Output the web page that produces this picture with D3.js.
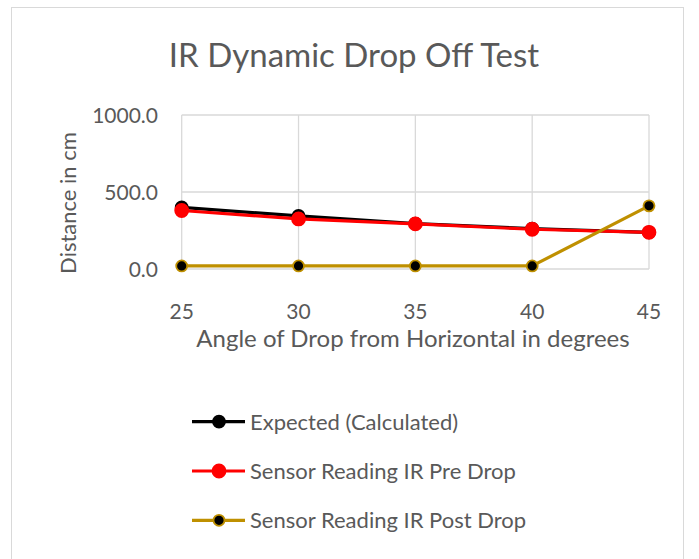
<!DOCTYPE html>
<html>
<head>
<meta charset="utf-8">
<script src="https://cdn.jsdelivr.net/npm/d3@7"></script>
<style>
  body { margin: 0; background: #fff; }
  svg text { font-family: Lato, "Open Sans", sans-serif; fill: #595959; }
</style>
</head>
<body>
<div class="chart-area"></div>
<script>
// data
const angles = [25, 30, 35, 40, 45];
const expected = [400, 345, 295, 262, 238];
const preDrop = [380, 325, 293, 258, 238];
const postDrop = [20, 20, 20, 20, 410];
const yTicks = [0, 500, 1000];
const seriesNames = ["Expected (Calculated)", "Sensor Reading IR Pre Drop", "Sensor Reading IR Post Drop"];

let width = 699;
let height = 559;

const svg = d3.select(".chart-area").append("svg")
  .attr("width", width)
  .attr("height", height);

// chart border
svg.append("rect")
  .attr("x", 11.5).attr("y", 7.5)
  .attr("width", 672).attr("height", 570)
  .attr("fill", "#fff")
  .attr("stroke", "#d9d9d9");

const x = d3.scalePoint()
  .domain(angles)
  .range([181.7, 649]);

const y = d3.scaleLinear()
  .domain([0, 1000])
  .range([269, 115]);

// gridlines
svg.append("g")
  .selectAll("line")
  .data(yTicks)
  .join("line")
  .attr("x1", 181.7).attr("x2", 649)
  .attr("y1", d => y(d)).attr("y2", d => y(d))
  .attr("stroke", "#d9d9d9").attr("stroke-width", 1.3);

svg.append("g")
  .selectAll("line")
  .data(angles)
  .join("line")
  .attr("x1", d => x(d)).attr("x2", d => x(d))
  .attr("y1", y(0)).attr("y2", y(1000))
  .attr("stroke", "#d9d9d9").attr("stroke-width", 1.3);

// tick labels
svg.append("g")
  .selectAll("text")
  .data(yTicks)
  .join("text")
  .attr("x", 158)
  .attr("y", d => y(d))
  .attr("dy", "0.36em")
  .attr("text-anchor", "end")
  .attr("font-size", 21)
  .text(d => d3.format(".1f")(d));

svg.append("g")
  .selectAll("text")
  .data(angles)
  .join("text")
  .attr("x", d => x(d))
  .attr("y", 319)
  .attr("text-anchor", "middle")
  .attr("font-size", 21)
  .text(d => d);

// titles
svg.append("text")
  .attr("x", 354).attr("y", 67)
  .attr("text-anchor", "middle")
  .attr("font-size", 33)
  .text("IR Dynamic Drop Off Test");

svg.append("text")
  .attr("x", 413).attr("y", 347)
  .attr("text-anchor", "middle")
  .attr("font-size", 24)
  .text("Angle of Drop from Horizontal in degrees");

svg.append("text")
  .attr("transform", "translate(76,203) rotate(-90)")
  .attr("text-anchor", "middle")
  .attr("font-size", 22)
  .text("Distance in cm");

// series
const series = [
  { name: seriesNames[0], values: expected, line: "#000000", fill: "#000000", stroke: "#000000", r: 6 },
  { name: seriesNames[1], values: preDrop, line: "#ff0000", fill: "#ff0000", stroke: "#ff0000", r: 6.5 },
  { name: seriesNames[2], values: postDrop, line: "#bf9000", fill: "#000000", stroke: "#bf9000", r: 5.5 }
];

const line = d3.line()
  .x((d, i) => x(angles[i]))
  .y(d => y(d));

series.forEach(s => {
  const g = svg.append("g");
  g.append("path")
    .datum(s.values)
    .attr("d", line)
    .attr("fill", "none")
    .attr("stroke", s.line)
    .attr("stroke-width", 3.2)
    .attr("stroke-linejoin", "round");
  g.selectAll("circle")
    .data(s.values)
    .join("circle")
    .attr("cx", (d, i) => x(angles[i]))
    .attr("cy", d => y(d))
    .attr("r", s.r)
    .attr("fill", s.fill)
    .attr("stroke", s.stroke)
    .attr("stroke-width", 1.8);
});

// legend
const legend = svg.append("g")
  .selectAll("g")
  .data(series)
  .join("g")
  .attr("transform", (d, i) => `translate(0,${421.7 + i * 49.3})`);

legend.append("line")
  .attr("x1", 192).attr("x2", 245)
  .attr("stroke", d => d.line)
  .attr("stroke-width", 3.2);

legend.append("circle")
  .attr("cx", 219)
  .attr("r", d => d.r)
  .attr("fill", d => d.fill)
  .attr("stroke", d => d.stroke)
  .attr("stroke-width", 1.8);

legend.append("text")
  .attr("x", 250)
  .attr("dy", "0.36em")
  .attr("font-size", 22)
  .text(d => d.name);
</script>
</body>
</html>
